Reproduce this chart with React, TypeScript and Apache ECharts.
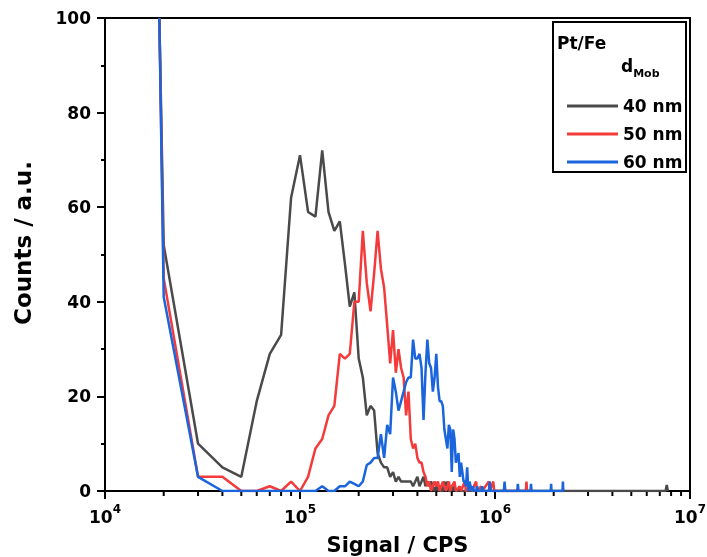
import React, { useEffect, useRef } from "react";
import * as echarts from "echarts";

// Signal values are given in units of 1e4 CPS, counts in a.u.
const signalUnit = 1e4;

const series40nmSignal = [1.9, 2, 3, 4, 5, 6, 7, 8, 9, 10, 11, 12, 13, 14, 15, 16, 17, 18, 19, 20, 21, 22, 23, 24, 25, 26, 27, 28, 29, 30, 31, 32, 33, 34, 35, 36, 37, 38, 39, 40, 41, 42, 43, 44, 45, 46, 47, 48, 49, 50, 51, 52, 53, 54, 55, 56, 57, 58, 59, 60, 61, 62, 63, 65, 66, 67, 70, 75, 750, 760, 770];
const series40nmCounts = [100, 52, 10, 5, 3, 19, 29, 33, 62, 71, 59, 58, 72, 59, 55, 57, 48, 39, 42, 28, 24, 16, 18, 17, 8, 6, 5, 5, 3, 4, 2, 3, 2, 2, 2, 2, 2, 1, 2, 3, 1, 2, 3, 1, 2, 1, 2, 1, 0, 1, 0, 1, 0, 0, 2, 1, 2, 0, 0, 1, 0, 1, 0, 0, 1, 0, 0, 0, 0, 1.3, 0];

const series50nmSignal = [1.9, 2, 3, 4, 5, 6, 7, 8, 9, 10, 11, 12, 13, 14, 15, 16, 17, 18, 19, 20, 21, 22, 23, 24, 25, 26, 27, 28, 29, 30, 31, 32, 33, 34, 35, 36, 37, 38, 39, 40, 41, 42, 43, 44, 45, 46, 47, 48, 49, 50, 51, 52, 53, 54, 55, 56, 57, 58, 59, 60, 62, 63, 66, 67, 70, 71, 75, 76, 80, 81, 85, 86, 93, 94, 98, 99, 144, 145, 146, 150];
const series50nmCounts = [100, 45, 3, 3, 0, 0, 1, 0, 2, 0, 3, 9, 11, 16, 18, 29, 28, 29, 40, 40, 55, 44, 38, 46, 55, 47, 43, 35, 27, 34, 25, 30, 26, 24, 16, 21, 11, 9, 10, 7, 6, 6, 4, 3, 1, 2, 0, 1, 2, 1, 2, 0, 1, 2, 1, 0, 1, 2, 0, 1, 2, 0, 1, 0, 2, 0, 1, 0, 2, 0, 1, 0, 2, 0, 2, 0, 0, 2, 0, 0];

const series60nmSignal = [1.9, 2, 3, 4, 12, 13, 14, 15, 16, 17, 18, 19, 20, 21, 22, 23, 24, 25, 26, 27, 28, 29, 30, 31, 32, 33, 34, 35, 36, 37, 38, 39, 40, 41, 42, 43, 44, 45, 46, 47, 48, 49, 50, 51, 52, 53, 54, 55, 56, 57, 58, 59, 60, 61, 62, 63, 64, 65, 66, 67, 68, 69, 70, 71, 72, 73, 74, 75, 76, 77, 78, 80, 81, 82, 85, 86, 87, 93, 94, 95, 111, 112, 113, 130, 131, 132, 152, 153, 154, 193, 194, 195, 222, 223, 224];
const series60nmCounts = [100, 41, 3, 0, 0, 1, 0, 0, 1, 1, 2, 1.5, 1, 2, 5.5, 6, 7, 7, 12, 7, 14, 12, 24, 21, 17, 19, 21, 23, 24, 24, 32, 28, 28, 29, 26, 15, 25, 32, 27, 26, 21, 24, 29, 22, 19, 19, 18, 13, 11, 9, 14, 13, 4, 13, 11, 6, 7, 8, 3, 6, 4, 2, 2, 1, 5, 0, 2, 1, 0, 1, 0, 0, 1, 0, 0, 1, 0, 0, 2, 0, 0, 2, 0, 0, 1.5, 0, 0, 1.5, 0, 0, 1.5, 0, 0, 2, 0];

const seriesNames = ["40 nm", "50 nm", "60 nm"];
const seriesColors = ["#4a4a4a", "#f43a3a", "#1a64dc"];

const xMin = 1e4;
const xMax = 1e7;
const yMin = 0;
const yMax = 100;
const yInterval = 20;
const minorMultipliers = [2, 3, 4, 5, 6, 7, 8, 9];
const minorDecades = [1e4, 1e5, 1e6];

const xTitle = "Signal / CPS";
const yTitle = "Counts / a.u.";
const legendTitle = "Pt/Fe";

const FONT = "DejaVu Sans";

function pairs(sig: number[], cnt: number[]) {
  return sig.map((s, i) => [s * signalUnit, cnt[i]]);
}

export default function App() {
  const ref = useRef<HTMLDivElement>(null);
  useEffect(() => {
    if (!ref.current) return;
    const chart = echarts.init(ref.current, null, { renderer: "svg" });
    const datasets = [
      pairs(series40nmSignal, series40nmCounts),
      pairs(series50nmSignal, series50nmCounts),
      pairs(series60nmSignal, series60nmCounts),
    ];
    const minorTicks: number[][] = [];
    minorDecades.forEach((d) => minorMultipliers.forEach((m) => minorTicks.push([m * d, 0])));

    const lineSeries = datasets.map((data, i) => ({
      type: "line",
      name: seriesNames[i],
      data,
      symbol: "none",
      lineStyle: { color: seriesColors[i], width: 2.5 },
      itemStyle: { color: seriesColors[i] },
      z: 3 + i,
    }));

    chart.setOption({
      animation: false,
      grid: {
        left: 105,
        right: 17,
        top: 18,
        bottom: 66,
        outerBoundsMode: "none",
        containLabel: false,
        show: true,
        borderColor: "#000",
        borderWidth: 2,
        backgroundColor: "transparent",
      },
      xAxis: {
        type: "log",
        logBase: 10,
        min: xMin,
        max: xMax,
        name: xTitle,
        nameLocation: "middle",
        nameGap: 43,
        nameTextStyle: { fontFamily: FONT, fontWeight: "bold", fontSize: 21, color: "#000" },
        axisLine: { lineStyle: { color: "#000", width: 2 } },
        axisTick: { inside: false, length: 8, lineStyle: { color: "#000", width: 2 } },
        splitLine: { show: false },
        minorTick: { show: false },
        axisLabel: {
          margin: 12,
          formatter: (v: number) => `{b|10}{s|${Math.round(Math.log10(v))}}`,
          rich: {
            b: { fontFamily: FONT, fontWeight: "bold", fontSize: 17, color: "#000", lineHeight: 22, verticalAlign: "bottom" },
            s: { fontFamily: FONT, fontWeight: "bold", fontSize: 12, color: "#000", lineHeight: 12, verticalAlign: "top" },
          },
        },
      },
      yAxis: {
        type: "value",
        min: yMin,
        max: yMax,
        interval: yInterval,
        axisLine: { show: true, lineStyle: { color: "#000", width: 2 } },
        axisTick: { show: true, inside: false, length: 8, lineStyle: { color: "#000", width: 2 } },
        minorTick: { show: true, splitNumber: 2, length: 4, lineStyle: { color: "#000", width: 2 } },
        splitLine: { show: false },
        axisLabel: { margin: 14, fontFamily: FONT, fontWeight: "bold", fontSize: 17, color: "#000" },
      },
      legend: {
        data: seriesNames,
        orient: "vertical",
        left: 562,
        top: 91,
        icon: "rect",
        itemWidth: 51,
        itemHeight: 3,
        itemGap: 8,
        z: 20,
        textStyle: { fontFamily: FONT, fontWeight: "bold", fontSize: 17, color: "#000", lineHeight: 20 },
        selectedMode: false,
      },
      graphic: [
        {
          type: "rect",
          shape: { x: 553, y: 22, width: 133, height: 150 },
          style: { fill: "#fff", stroke: "#000", lineWidth: 2 },
          z: 1,
        },
        {
          type: "text",
          x: 557,
          y: 34,
          style: { text: legendTitle, fontFamily: FONT, fontWeight: "bold", fontSize: 17, fill: "#000" },
          z: 21,
        },
        {
          type: "text",
          x: 621,
          y: 57,
          style: {
            text: "{d|d}{m|Mob}",
            rich: {
              d: { fontFamily: FONT, fontWeight: "bold", fontSize: 17, fill: "#000", lineHeight: 22, verticalAlign: "top" },
              m: { fontFamily: FONT, fontWeight: "bold", fontSize: 11, fill: "#000", lineHeight: 12, verticalAlign: "bottom" },
            },
          },
          z: 21,
        },
        {
          type: "text",
          x: 23,
          y: 243,
          rotation: Math.PI / 2,
          style: {
            text: yTitle,
            fontFamily: FONT,
            fontWeight: "bold",
            fontSize: 23,
            fill: "#000",
            align: "center",
            verticalAlign: "middle",
          },
          z: 21,
        },
      ],
      series: [
        ...lineSeries,
        {
          type: "custom",
          name: "minor",
          silent: true,
          clip: false,
          data: minorTicks,
          encode: { x: 0, y: 1 },
          z: 10,
          renderItem: (params: any, api: any) => {
            const p = api.coord([api.value(0), 0]);
            return {
              type: "line",
              shape: { x1: p[0], y1: p[1] + 1, x2: p[0], y2: p[1] + 5 },
              style: { stroke: "#000", lineWidth: 2 },
            };
          },
        },
      ],
    });
    return () => chart.dispose();
  }, []);
  return <div ref={ref} style={{ position: "fixed", left: 0, top: 0, width: 707, height: 557 }} />;
}
